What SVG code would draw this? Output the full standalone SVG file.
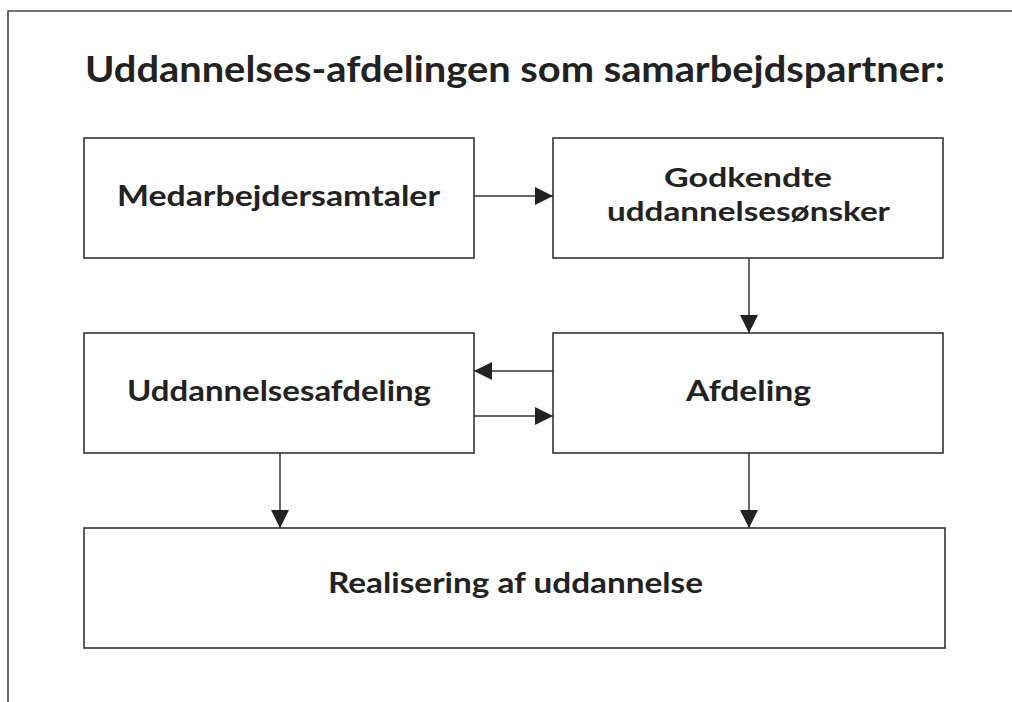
<svg xmlns="http://www.w3.org/2000/svg" width="1012" height="702" viewBox="0 0 1012 702">
<style>
.box{fill:#fff;stroke:#333;stroke-width:1.6}
.t{font-family:Lato,"Open Sans","Liberation Sans",sans-serif;font-weight:bold;fill:#222;text-anchor:middle}
.lbl{font-size:29px}
.c{stroke:#333;stroke-width:1.5;fill:none}
</style>
<defs>
<marker id="ah" markerWidth="20" markerHeight="20" refX="18" refY="9" orient="auto" markerUnits="userSpaceOnUse">
<path d="M0,0 L18,9 L0,18 Z" fill="#222"/>
</marker>
</defs>
<rect width="1012" height="702" fill="#fff"/>
<path d="M8,702 V11 H1012" fill="none" stroke="#444" stroke-width="1.6"/>
<text x="515" y="82" class="t" style="font-size:36px" textLength="860" lengthAdjust="spacingAndGlyphs">Uddannelses-afdelingen som samarbejdspartner:</text>
<g id="n1"><rect class="box" x="84" y="138" width="390" height="120"/><text class="t lbl" x="278.5" y="206" textLength="323" lengthAdjust="spacingAndGlyphs">Medarbejdersamtaler</text></g>
<g id="n2"><rect class="box" x="553" y="138" width="390" height="120"/><text class="t" style="font-size:27px" x="748" y="187" textLength="168" lengthAdjust="spacingAndGlyphs">Godkendte</text><text class="t" style="font-size:27px" x="748.5" y="221" textLength="283" lengthAdjust="spacingAndGlyphs">uddannelsesønsker</text></g>
<g id="n3"><rect class="box" x="84" y="333" width="390" height="120"/><text class="t lbl" x="279" y="401" textLength="304" lengthAdjust="spacingAndGlyphs">Uddannelsesafdeling</text></g>
<g id="n4"><rect class="box" x="553" y="333" width="390" height="120"/><text class="t lbl" x="748.5" y="401" textLength="125" lengthAdjust="spacingAndGlyphs">Afdeling</text></g>
<g id="n5"><rect class="box" x="84" y="528" width="861" height="120"/><text class="t lbl" x="515.5" y="593" textLength="375" lengthAdjust="spacingAndGlyphs">Realisering af uddannelse</text></g>
<g id="connectors">
<line class="c" x1="474" y1="196" x2="553" y2="196" marker-end="url(#ah)"/>
<line class="c" x1="749" y1="258" x2="749" y2="333" marker-end="url(#ah)"/>
<line class="c" x1="553" y1="371" x2="474" y2="371" marker-end="url(#ah)"/>
<line class="c" x1="474" y1="416" x2="553" y2="416" marker-end="url(#ah)"/>
<line class="c" x1="280" y1="453" x2="280" y2="528" marker-end="url(#ah)"/>
<line class="c" x1="749" y1="453" x2="749" y2="528" marker-end="url(#ah)"/>
</g>
</svg>
